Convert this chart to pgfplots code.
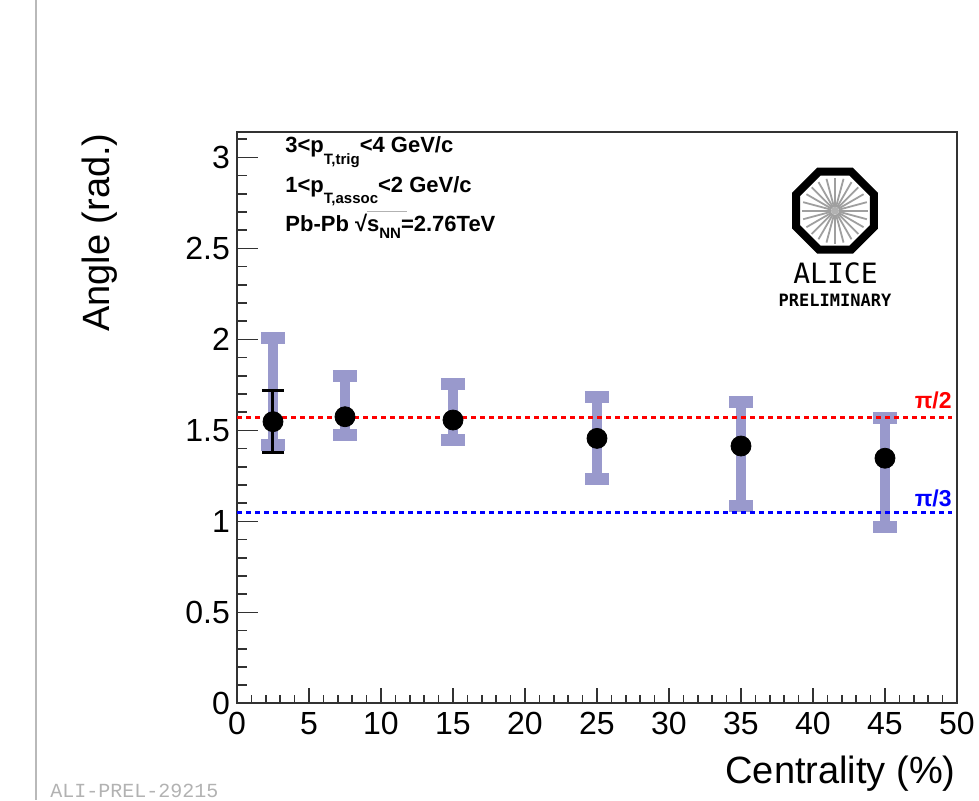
\documentclass[border=0pt]{standalone}
\usepackage{fontspec}
\setmainfont{Liberation Sans}
\setmonofont{Liberation Mono}
\newfontfamily\alicefont{DejaVu Sans Mono}
\usepackage{pgfplots}
\usepackage{pgfplotstable}
\pgfplotsset{compat=1.18}
\definecolor{syst}{RGB}{153,153,204}
\definecolor{frame}{RGB}{50,50,50}

% centrality, angle, syst error up / down
\pgfplotstableread{
x    y     ep    em
2.5  1.548 0.460 0.128
7.5  1.575 0.225 0.098
15   1.557 0.197 0.110
25   1.456 0.229 0.222
35   1.414 0.244 0.331
45   1.347 0.219 0.379
}\systdata

\newcommand{\txt}{\fontsize{11}{13}\selectfont\bfseries}
\newcommand{\sub}[2]{\raisebox{#1}{\fontsize{7.5}{8}\selectfont\bfseries #2}}

\begin{document}
\begin{tikzpicture}
\pgfplotsset{rootframe/.style={
  width=360pt, height=285.8pt, scale only axis,
  xmin=0, xmax=50, ymin=0, ymax=3.14159,
  axis line style={frame, line width=1pt},
  tick align=inside,
  tick style={frame, line width=0.8pt},
  xtick pos=lower, ytick pos=left,
  /pgf/number format/assume math mode=true,
  ticklabel style={font=\fontsize{16}{16}\selectfont},
}}

%% x ticks (shorter than the y ticks)
\begin{axis}[rootframe,
  ytick=\empty,
  xtick={0,5,...,50}, minor x tick num=4,
  major tick length=7.5pt, minor tick length=4pt,
  xticklabel style={yshift=-1pt},
]
\addplot[draw=none, forget plot] coordinates {(0,0)};
\end{axis}

%% data + y ticks
\begin{axis}[rootframe,
  xtick=\empty,
  ytick={0,0.5,1,1.5,2,2.5,3},
  minor ytick={0.1,0.2,0.3,0.4,0.6,0.7,0.8,0.9,1.1,1.2,1.3,1.4,1.6,1.7,1.8,1.9,
               2.1,2.2,2.3,2.4,2.6,2.7,2.8,2.9,3.1},
  major tick length=10.5pt, minor tick length=5pt,
]
\coordinate (ll) at (rel axis cs:0,0);

%% systematic errors
\addplot[only marks, mark=none, forget plot,
  error bars/.cd, y dir=both, y explicit,
  error bar style={draw=syst, line width=5pt},
  error mark=|, error mark options={draw=syst, line width=6pt, mark size=6pt}]
  table[x=x, y=y, y error plus=ep, y error minus=em]{\systdata};

%% pi/2 and pi/3
\addplot[red, line width=1.5pt, dash pattern=on 2.5pt off 2pt, forget plot]
  coordinates {(0,1.5708) (49.65,1.5708)};
\addplot[blue, line width=1.5pt, dash pattern=on 2.5pt off 2pt, forget plot]
  coordinates {(0,1.0472) (49.65,1.0472)};

%% statistical error (only visible one)
\addplot[only marks, mark=none, forget plot,
  error bars/.cd, y dir=both, y explicit,
  error bar style={black, line width=1.5pt},
  error mark=|, error mark options={black, line width=1.5pt, mark size=5.5pt}]
  coordinates {(2.5,1.548) += (0,0.170) -= (0,0.169)};

\addplot[only marks, mark=*, mark size=5pt, black]
  table[x=x, y=y]{\systdata};
\end{axis}

%% everything else placed in pixel units of the reference
\begin{scope}[shift={(ll)}]
\begin{scope}[x=0.5pt, y=-0.5pt, shift={(-237,-703.3)}]
  \draw[gray!55, line width=0.6pt] (36,0) -- (36,800);

  \node[rotate=90, anchor=east, inner sep=0pt, font=\fontsize{19}{19}\selectfont]
    at (100,133) {Angle (rad.)};
  \node[anchor=base east, inner sep=0pt, font=\fontsize{19}{19}\selectfont]
    at (956,783) {Centrality (\%)};

  \node[anchor=base west, inner sep=0pt, font=\txt] at (285,153)
    {3<p\sub{-5.5pt}{T,trig}<4 GeV/c};
  \node[anchor=base west, inner sep=0pt, font=\txt] at (285,192.7)
    {1<p\sub{-5.5pt}{T,assoc}<2 GeV/c};
  \node[anchor=base west, inner sep=0pt, font=\txt] at (285,231)
    {Pb-Pb √\rlap{\raisebox{9.5pt}{\color{gray!60}\rule{20pt}{0.4pt}}}s\sub{-3.5pt}{NN}=2.76TeV};

  \node[anchor=base east, inner sep=0pt, red, font=\fontsize{11.5}{12}\selectfont\bfseries]
    at (952,408) {π/2};
  \node[anchor=base east, inner sep=0pt, blue, font=\fontsize{11.5}{12}\selectfont\bfseries]
    at (952,506.7) {π/3};

  %% ALICE logo
  \begin{scope}[shift={(835,210.7)}]
    \foreach \a in {0,15,...,345}
      \draw[gray!75, line width=0.9pt] (\a:4) -- (\a:33);
    \fill[gray!60] (0,0) circle (4);
    \draw[black, line width=4pt, line join=miter]
      (22.5:42.2) -- (67.5:42.2) -- (112.5:42.2) -- (157.5:42.2) --
      (202.5:42.2) -- (247.5:42.2) -- (292.5:42.2) -- (337.5:42.2) -- cycle;
  \end{scope}
  \node[anchor=base, inner sep=0pt, font=\alicefont\fontsize{14}{14}\selectfont]
    at (835.5,283.3) {ALICE};
  \node[anchor=base, inner sep=0pt, font=\alicefont\bfseries\fontsize{8.5}{9}\selectfont]
    at (835,306) {PRELIMINARY};

  \node[anchor=base west, inner sep=0pt, gray!60, font=\ttfamily\fontsize{10}{10}\selectfont]
    at (50,797) {ALI-PREL-29215};

  \pgfresetboundingbox
  \path[use as bounding box] (0,0) rectangle (979,800);
\end{scope}
\end{scope}
\end{tikzpicture}
\end{document}
